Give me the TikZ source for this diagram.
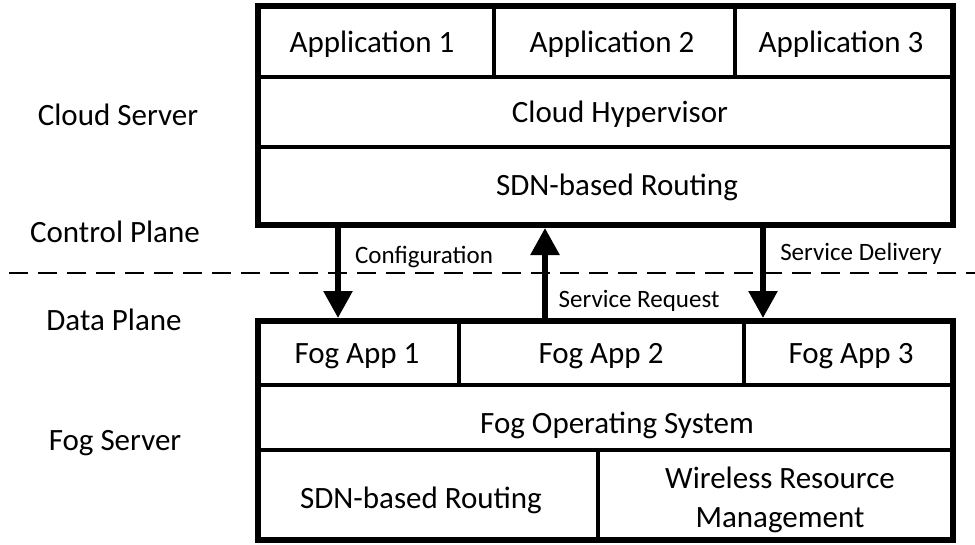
\documentclass[tikz,border=0pt]{standalone}
\usepackage{fontspec}
\setmainfont{Carlito}
\usetikzlibrary{arrows.meta}
\begin{document}
\begin{tikzpicture}[x=1pt,y=-1pt,
  box/.style={draw, line width=6pt, inner sep=0pt, outer sep=3pt, minimum width=695pt, minimum height=219pt},
  divider/.style={line width=4pt},
  lbl/.style={font=\fontsize{31}{39}\selectfont, inner sep=0pt, anchor=base},
  albl/.style={font=\fontsize{25}{30}\selectfont, inner sep=0pt, anchor=base},
  flow/.style={line width=5.7pt, -{Triangle[length=27pt,width=28pt]}},
  plane/.style={line width=2pt, dash pattern=on 19pt off 10pt}]
\useasboundingbox (0,0) rectangle (975,544);
% boxes
\node[box] (cloud) at (605.5,115.5) {};
\node[box] (fog) at (605.5,430.5) {};
% cloud dividers
\draw[divider] (258,77) -- (953,77);
\draw[divider] (258,147) -- (953,147);
\draw[divider] (494,6) -- (494,77);
\draw[divider] (735,6) -- (735,77);
% fog dividers
\draw[divider] (258,385) -- (953,385);
\draw[divider] (258,450) -- (953,450);
\draw[divider] (459,321) -- (459,385);
\draw[divider] (744,321) -- (744,385);
\draw[divider] (598,450) -- (598,540);
% cloud texts
\node[lbl] (app1) at (372,52) {Application 1};
\node[lbl] (app2) at (612,52) {Application 2};
\node[lbl] (app3) at (841,52) {Application 3};
\node[lbl] (hyp) at (620,122) {Cloud Hypervisor};
\node[lbl] (csdn) at (617,195) {SDN-based Routing};
% fog texts
\node[lbl] (fapp1) at (357,363) {Fog App 1};
\node[lbl] (fapp2) at (601,363) {Fog App 2};
\node[lbl] (fapp3) at (851,363) {Fog App 3};
\node[lbl] (fos) at (617,433) {Fog Operating System};
\node[lbl] (fsdn) at (421,508) {SDN-based Routing};
\node[lbl, align=center] (wrm) at (780,527) {Wireless Resource\\Management};
% side labels
\node[lbl] (cs) at (118,125) {Cloud Server};
\node[lbl] (cp) at (115,242) {Control Plane};
\node[lbl] (dp) at (114,330) {Data Plane};
\node[lbl] (fs) at (115,450) {Fog Server};
% plane separator
\coordinate (pl) at (9,273);
\coordinate (pr) at (975,273);
\draw[plane] (pl) -- (pr);
% arrows
\coordinate (cfgx) at (338,0);
\coordinate (reqx) at (545,0);
\coordinate (delx) at (763,0);
\draw[flow] (cfgx |- cloud.south) -- (cfgx |- fog.north);
\draw[flow] (reqx |- fog.north) -- (reqx |- cloud.south);
\draw[flow] (delx |- cloud.south) -- (delx |- fog.north);
\node[albl] (cfgl) at (424,263) {Configuration};
\node[albl] (reql) at (639,307) {Service Request};
\node[albl] (dell) at (861,260) {Service Delivery};
\end{tikzpicture}
\end{document}
